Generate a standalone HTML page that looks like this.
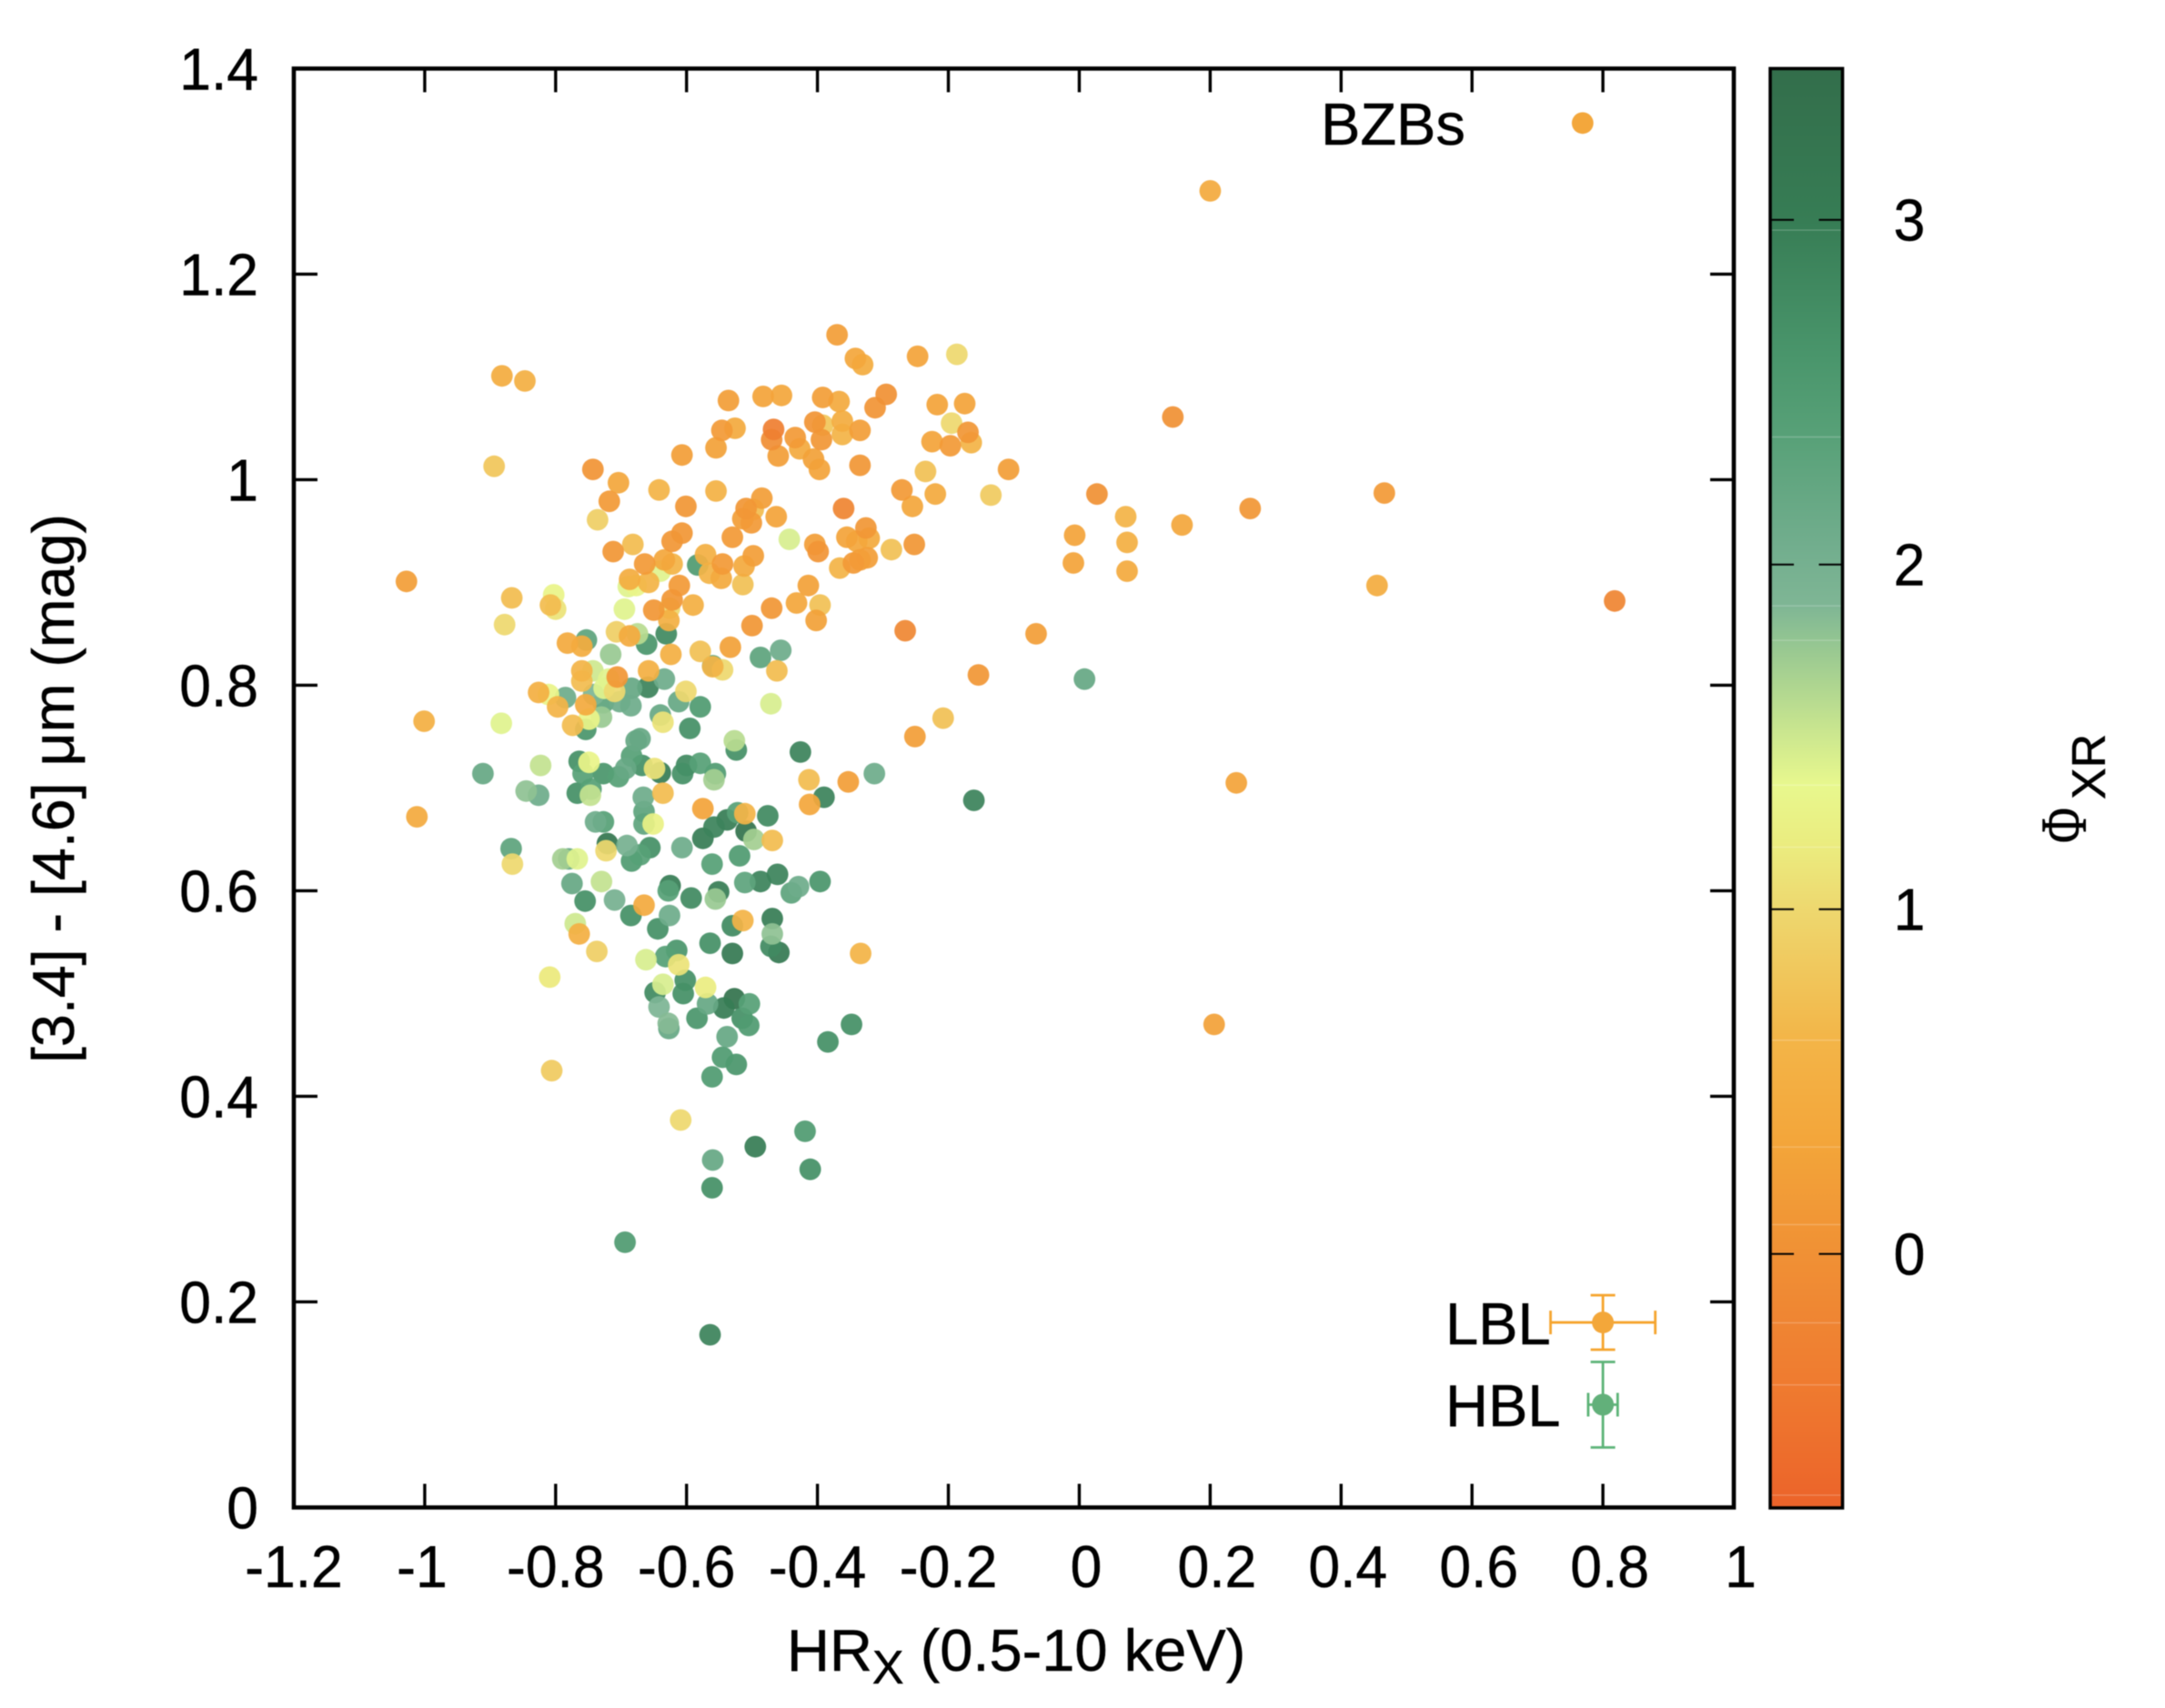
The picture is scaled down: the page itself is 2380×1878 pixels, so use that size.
<!DOCTYPE html>
<html lang="en">
<head>
<meta charset="utf-8">
<title>HRx versus WISE colour scatter plot</title>
<style>
  html, body { margin: 0; padding: 0; background: #fff; }
  svg { display: block; filter: blur(0.5px); }
  text { font-family: "Liberation Sans", sans-serif; fill: #000; stroke: #000; stroke-width: 0.5px; }
</style>
</head>
<body>
<svg id="chart" xmlns="http://www.w3.org/2000/svg" width="2380" height="1878" viewBox="0 0 2380 1878">
  <rect x="0" y="0" width="2380" height="1878" fill="#fff"/>
  <defs>
    <linearGradient id="cbGradient" x1="0" y1="0" x2="0" y2="1"></linearGradient>
  </defs>
  <g id="colorbar"></g>
  <g id="points"></g>
  <g id="legend"></g>
  <g id="axes"></g>

  <text x="865" y="1837" font-size="65">HR<tspan font-size="52" dy="14">X</tspan><tspan dy="-14"> (0.5-10 keV)</tspan></text>
  <text transform="translate(81,867) rotate(-90)" text-anchor="middle" font-size="65" textLength="604" lengthAdjust="spacingAndGlyphs">[3.4] - [4.6] μm (mag)</text>
  <text transform="translate(2293,927) rotate(-90)" font-size="72" textLength="39" lengthAdjust="spacingAndGlyphs" style="font-family:'Liberation Serif',serif">Φ</text>
  <text transform="translate(2314,879) rotate(-90)" font-size="52">XR</text>
  <text x="1452" y="159" font-size="65">BZBs</text>
  <text x="1589" y="1478" font-size="65">LBL</text>
  <text x="1589" y="1568" font-size="65">HBL</text>
</svg>

<script>
// ---- data ----
const hardness = [
  -0.370,-0.882,-0.847,-0.894,-0.743,-0.704,-0.718,-0.736,-0.642,-0.601,
  -0.555,-0.555,-0.607,-0.546,-0.526,-0.536,-0.483,-0.455,-0.392,-0.367,
  -0.342,-0.331,-0.247,-0.187,-0.295,-0.312,-0.217,-0.175,-0.195,-0.170,
  -0.165,-0.225,-0.197,-0.362,-0.362,-0.392,-0.404,-0.394,-0.335,-0.467,
  -0.470,-0.434,-0.427,-0.406,-0.460,-0.397,-0.335,-0.235,-0.271,-0.255,
  -0.220,-0.135,-0.360,-0.485,-0.509,-0.498,-0.514,-0.501,-0.463,-0.530,
  -0.607,-0.622,-0.443,-0.404,-0.399,-0.355,-0.340,-0.321,-0.326,-0.345,
  -0.324,-0.335,-0.366,-0.287,-0.252,-0.712,-0.682,-0.664,-0.634,-0.622,
  -0.583,-0.571,-0.545,-0.565,-0.547,-0.498,-0.512,-0.514,-0.687,-0.689,
  -0.677,-0.658,-0.611,-0.622,-0.590,-0.640,-0.867,-0.803,-0.800,-0.808,
  -0.878,-0.695,-0.650,-0.627,-0.626,-0.414,-0.432,-0.396,-0.402,-0.470,
  -0.500,-0.266,-1.028,-0.753,-0.782,-0.760,-0.707,-0.687,-0.675,-0.631,
  -0.661,-0.716,-0.624,-0.579,-0.533,-0.560,-0.545,-0.560,-0.487,-0.456,
  -0.462,-0.658,-0.634,-0.760,-0.743,-0.706,-0.154,0.143,0.027,-0.108,
  -0.007,-0.009,0.071,0.073,0.073,0.157,0.261,0.466,0.455,0.818,
  0.200,-0.066,0.008,0.240,0.206,-0.161,-0.760,-0.719,-0.659,-0.684,
  -0.726,-0.710,-0.601,-0.826,-0.811,-0.785,-0.797,-0.754,-0.727,-0.742,
  -0.702,-0.685,-0.612,-0.579,-0.640,-0.636,-0.730,-0.749,-0.774,-0.754,
  -0.595,-0.471,-0.883,-1.001,-0.208,-0.251,-0.671,-0.677,-0.527,-0.524,
  -0.426,-0.684,-0.764,-0.749,-0.668,-0.693,-0.649,-0.640,-0.704,-0.727,
  -0.758,-0.823,-0.911,-0.600,-0.606,-0.579,-0.556,-0.558,-0.413,-0.353,
  -0.313,-0.390,-0.412,-0.845,-0.826,-0.767,-0.747,-0.746,-0.666,-0.665,
  -0.636,-0.575,-0.522,-0.511,-0.476,-0.538,-0.558,-0.575,-0.509,-0.497,
  -0.469,-1.012,-0.739,-0.727,-0.651,-0.665,-0.868,-0.866,-0.789,-0.780,
  -0.767,-0.721,-0.723,-0.691,-0.656,-0.671,-0.684,-0.607,-0.561,-0.519,
  -0.775,-0.730,-0.755,-0.710,-0.665,-0.685,-0.626,-0.644,-0.628,-0.625,
  -0.593,-0.556,-0.551,-0.511,-0.487,-0.461,-0.440,-0.429,-0.396,-0.469,
  -0.514,-0.530,-0.469,-0.564,-0.471,-0.459,-0.530,-0.334,-0.770,-0.764,
  -0.737,-0.809,-0.662,-0.632,-0.615,-0.612,-0.602,-0.636,-0.648,-0.605,
  -0.571,-0.527,-0.543,-0.568,-0.504,-0.515,-0.505,-0.584,-0.642,-0.627,
  -0.628,-0.538,-0.545,-0.524,-0.561,-0.348,-0.384,-0.806,-0.609,-0.419,
  -0.495,-0.560,-0.411,-0.561,-0.694,-0.564
];
const wiseColour = [
  1.141,1.101,1.096,1.013,1.010,0.997,0.979,0.961,0.990,0.974,
  0.989,1.031,1.024,1.048,1.050,1.077,1.081,1.082,1.080,1.076,
  1.118,1.112,1.120,1.122,1.083,1.070,1.073,1.074,1.055,1.046,
  1.036,1.037,1.033,1.057,1.044,1.053,1.056,1.039,1.048,1.049,
  1.039,1.041,1.030,1.020,1.023,1.010,1.014,1.008,0.990,0.974,
  0.986,0.985,0.972,0.982,0.972,0.971,0.962,0.958,0.964,0.944,
  0.948,0.940,0.942,0.937,0.930,0.944,0.940,0.943,0.953,0.919,
  0.924,0.922,0.914,0.932,0.937,0.930,0.937,0.918,0.922,0.918,
  0.917,0.927,0.918,0.909,0.904,0.926,0.916,0.898,0.903,0.896,
  0.897,0.900,0.897,0.883,0.878,0.911,0.885,0.888,0.874,0.878,
  0.859,0.874,0.873,0.863,0.875,0.897,0.880,0.878,0.863,0.875,
  0.858,0.853,0.901,0.844,0.841,0.838,0.852,0.848,0.850,0.850,
  0.840,0.830,0.830,0.833,0.837,0.819,0.815,0.818,0.827,0.834,
  0.814,0.814,0.806,0.814,0.814,0.808,0.810,1.061,0.986,1.010,
  0.946,0.919,0.964,0.939,0.911,0.956,0.972,0.987,0.897,0.882,
  1.281,0.850,0.806,0.705,0.470,0.688,0.804,0.806,0.798,0.797,
  0.797,0.794,0.794,0.793,0.791,0.788,0.779,0.781,0.783,0.791,
  0.784,0.780,0.784,0.779,0.771,0.764,0.769,0.767,0.761,0.757,
  0.758,0.782,0.763,0.765,0.768,0.750,0.748,0.746,0.746,0.737,
  0.735,0.731,0.726,0.725,0.722,0.719,0.719,0.715,0.711,0.714,
  0.714,0.722,0.714,0.722,0.714,0.724,0.714,0.708,0.708,0.706,
  0.714,0.691,0.684,0.697,0.693,0.695,0.693,0.699,0.691,0.677,
  0.695,0.680,0.676,0.675,0.673,0.669,0.662,0.651,0.658,0.650,
  0.649,0.672,0.667,0.667,0.665,0.665,0.641,0.626,0.631,0.631,
  0.631,0.646,0.639,0.644,0.642,0.635,0.629,0.642,0.626,0.634,
  0.607,0.609,0.590,0.591,0.586,0.576,0.576,0.563,0.600,0.605,
  0.593,0.592,0.599,0.608,0.609,0.616,0.598,0.604,0.609,0.573,
  0.571,0.566,0.558,0.549,0.546,0.540,0.539,0.539,0.568,0.558,
  0.541,0.516,0.533,0.536,0.542,0.528,0.513,0.509,0.501,0.500,
  0.506,0.495,0.486,0.490,0.490,0.476,0.469,0.476,0.487,0.466,
  0.471,0.458,0.438,0.431,0.419,0.470,0.453,0.425,0.377,0.366,
  0.351,0.338,0.329,0.311,0.258,0.168
];
const phiXR = [
  0.2,0.45,0.5,0.8,0.05,0.35,0.15,0.9,0.6,0.1,
  0.55,0.25,0.2,0.15,0.4,0.2,0.3,0.35,0.2,0.4,
  0.35,0.45,0.3,1.0,0,0.05,0.3,0.3,1.0,0.1,
  0.6,0.3,0.15,0.45,0.6,0.8,0.05,0.1,0.2,-0.3,
  -0.05,0.15,0.4,0.25,0.2,0.3,0.1,0.75,0.15,0.35,
  0.4,0.85,-0.2,0.2,0.1,0.7,0.2,0.15,0.3,0.15,
  0.1,0.1,1.45,0.2,0.05,0.3,0.35,0.4,0.1,0.15,
  0.2,0.2,0.6,0.75,0.1,0.1,0.7,0.15,0.35,0.6,
  2.5,0.5,0.15,0.6,0.4,0.2,0.4,0.75,0.45,1.4,
  1.3,0.6,0.15,0.1,0.5,1.4,0.7,1.3,1.1,0.7,
  1.0,1.4,0.1,0.5,1.0,0.25,0.35,0.75,0.25,0.1,
  0.1,-0.15,0.2,2.3,0.4,0.45,0.9,0.4,1.6,2.8,
  2.6,1.75,0.5,0.75,0.25,2.3,1.0,0.6,2.3,2.1,
  0.7,0.5,2.1,0.6,1.5,0.1,0.1,0,0,0.2,
  0.3,0.3,0.6,0.5,0.4,0.35,0.1,0.15,0.45,-0.2,
  0.4,0.2,2.2,0.3,0.25,2.9,0.7,1.4,2.9,2.2,
  1.4,1.0,1.0,0.5,1.3,2.1,0.6,0.4,2.3,1.9,
  2.1,2.1,2.2,2.5,2.2,1.1,1.75,1.3,0.7,2.6,
  2.7,1.45,1.4,0.5,0.75,0.2,2.2,2.2,1.6,2.7,
  2.9,2.4,2.7,1.3,2.7,2.2,1.1,3.0,2.4,2.6,
  2.4,1.55,2.2,2.8,2.7,2.4,2.5,1.7,0.7,0.2,
  2.1,2.9,0.35,1.8,2.1,2.7,1.55,2.4,2.1,2.3,
  0.7,0.3,2.4,0.6,2.8,3.0,2.9,3.0,3.3,1.7,
  0.7,0.4,2.1,2.4,1.25,2.3,2.3,1.0,1.7,2.2,
  1.4,3.2,1.0,2.0,2.7,2.4,2.5,2.1,2.4,2.5,
  2.2,1.55,2.7,2.0,0.4,2.7,2.1,2.7,2.4,3.0,
  2.8,1.75,3.0,2.3,2.9,2.9,2.3,2.1,2.6,3.0,
  0.6,2.8,1.8,2.7,2.8,3.1,3.1,0.6,1.5,0.5,
  0.9,1.15,1.45,2.4,2.6,1.1,2.7,1.45,2.8,2.7,
  1.2,3.3,3.0,2.2,2.4,2.7,2.5,2.6,1.9,2.2,
  1.85,2.2,2.5,2.6,2.5,2.7,2.7,0.85,1.0,2.5,
  3.0,2.2,2.7,2.7,2.5,2.9
];

const xTicks = [-1.2,-1,-0.8,-0.6,-0.4,-0.2,0,0.2,0.4,0.6,0.8,1];
const xTickLabels = ['-1.2','-1','-0.8','-0.6','-0.4','-0.2','0','0.2','0.4','0.6','0.8','1'];
const yTicks = [0,0.2,0.4,0.6,0.8,1,1.2,1.4];
const yTickLabels = ['0','0.2','0.4','0.6','0.8','1','1.2','1.4'];
const cbTicks = [0,1,2,3];
const cbTickLabels = ['0','1','2','3'];

const paletteValues = [-0.74,-0.38,-0.2,0.085,0.31,0.62,1.0,1.18,1.36,1.5,1.78,1.88,2.05,2.37,2.6,3.0,3.44];
const paletteColours = ['#ec632a','#ef7b30','#ef8533','#f19636','#f3a53a','#f3b548','#eed86f','#ebec7f','#e8f88e','#cde88f','#93c592','#7fb695','#72ae8e','#58a178','#4a966c','#377d55','#336e4b'];
const paletteSeams = [-0.7,-0.38,-0.2,0.085,0.31,0.62,1.18,1.36,1.78,1.88,2.37,2.97];

const refNames = ['LBL','HBL'];
const refX = [0.8,0.8];
const refY = [0.18,0.1];
const refXErr = [0.08,0.0225];
const refYErr = [0.0265,0.0416];
const refLine = ['#f5a42e','#5cb377'];
const refDot = ['#f3a73a','#62b07a'];
const bzbsKeyX = 0.769;
const bzbsKeyY = 1.347;
const bzbsKeyPhi = 0.35;

// ---- axis functions ----
const PLOT = { left: 323, right: 1906, top: 75.4, bottom: 1657.5 };
const CB = { left: 1946, right: 2025.5, top: 75.4, bottom: 1658 };
const sx = v => PLOT.left + (v + 1.2) / 2.2 * (PLOT.right - PLOT.left);
const sy = v => PLOT.bottom - v / 1.4 * (PLOT.bottom - PLOT.top);
const sc = v => 1378.7 - v * 379;
const CB_MAX = 3.44;
const CB_MIN = -0.74;
const TICK_TEXT_SCALE = 'scale(0.96,1)';

const NS = 'http://www.w3.org/2000/svg';
function make(parent, tag, attrs, text) {
  const el = document.createElementNS(NS, tag);
  for (const k in attrs) el.setAttribute(k, attrs[k]);
  if (text !== undefined) el.textContent = text;
  parent.appendChild(el);
  return el;
}
function hexToRgb(h) {
  return [parseInt(h.slice(1,3),16), parseInt(h.slice(3,5),16), parseInt(h.slice(5,7),16)];
}
function colourOf(v) {
  if (v <= paletteValues[0]) return paletteColours[0];
  for (let i = 1; i < paletteValues.length; i++) {
    if (v <= paletteValues[i]) {
      const t = (v - paletteValues[i-1]) / (paletteValues[i] - paletteValues[i-1]);
      const a = hexToRgb(paletteColours[i-1]);
      const b = hexToRgb(paletteColours[i]);
      return 'rgb(' + [0,1,2].map(c => Math.round(a[c] + (b[c]-a[c]) * t)).join(',') + ')';
    }
  }
  return paletteColours[paletteColours.length - 1];
}

// ---- colour bar ----
const grad = document.getElementById('cbGradient');
for (let i = paletteValues.length - 1; i >= 0; i--) {
  const off = (CB_MAX - paletteValues[i]) / (CB_MAX - CB_MIN);
  make(grad, 'stop', { offset: off.toFixed(4), 'stop-color': paletteColours[i] });
}
const cbGroup = document.getElementById('colorbar');
const cbRect = make(cbGroup, 'rect', { x: CB.left, y: CB.top, width: CB.right - CB.left, height: CB.bottom - CB.top, fill: 'url(#cbGradient)' });


paletteSeams.forEach(v => {
  const seam = make(cbGroup, 'line', { x1: CB.left + 2, x2: CB.right - 2, y1: sc(v), y2: sc(v), stroke: '#fff', 'stroke-opacity': 0.25, 'stroke-width': 1.2 });
  
  
});
const cbFrame = make(cbGroup, 'rect', { x: CB.left, y: CB.top, width: CB.right - CB.left, height: CB.bottom - CB.top, fill: 'none', stroke: '#000', 'stroke-width': 3.6 });


cbTicks.forEach((v, i) => {
  const y = sc(v);
  const t1 = make(cbGroup, 'line', { x1: CB.left, x2: CB.left + 26, y1: y, y2: y, stroke: '#000', 'stroke-width': 2 });
  
  
  const t2 = make(cbGroup, 'line', { x1: CB.right - 26, x2: CB.right, y1: y, y2: y, stroke: '#000', 'stroke-width': 2 });
  
  
  const lab = make(cbGroup, 'text', { transform: 'translate(2099,' + (y + 23) + ') ' + TICK_TEXT_SCALE, 'text-anchor': 'middle', 'font-size': 65 }, cbTickLabels[i]);
  
  
});

// ---- data points (green first so orange sits above, as in the figure) ----
const pointGroup = document.getElementById('points');
const order = hardness.map((_, i) => i).sort((a, b) => phiXR[b] - phiXR[a]);
order.forEach(i => {
  const dot = make(pointGroup, 'circle', { cx: sx(hardness[i]).toFixed(1), cy: sy(wiseColour[i]).toFixed(1), r: 11.9, fill: colourOf(phiXR[i]), 'fill-opacity': 0.93 });
  
  
});

// ---- legend ----
const legendGroup = document.getElementById('legend');
const bzbsKey = make(legendGroup, 'circle', { cx: sx(bzbsKeyX), cy: sy(bzbsKeyY), r: 11.9, fill: colourOf(bzbsKeyPhi) });


refNames.forEach((name, i) => {
  const g = make(legendGroup, 'g', { stroke: refLine[i], 'stroke-width': 2.8, fill: 'none' });
  
  
  const cx = sx(refX[i]);
  const cy = sy(refY[i]);
  const x0 = sx(refX[i] - refXErr[i]);
  const x1 = sx(refX[i] + refXErr[i]);
  const y0 = sy(refY[i] - refYErr[i]);
  const y1 = sy(refY[i] + refYErr[i]);
  make(g, 'line', { x1: x0, x2: x1, y1: cy, y2: cy });
  make(g, 'line', { x1: cx, x2: cx, y1: y0, y2: y1 });
  make(g, 'line', { x1: x0, x2: x0, y1: cy - 13, y2: cy + 13 });
  make(g, 'line', { x1: x1, x2: x1, y1: cy - 13, y2: cy + 13 });
  make(g, 'line', { x1: cx - 13.5, x2: cx + 13.5, y1: y0, y2: y0 });
  make(g, 'line', { x1: cx - 13.5, x2: cx + 13.5, y1: y1, y2: y1 });
  const dot = make(legendGroup, 'circle', { cx: cx, cy: cy, r: 12, fill: refDot[i] });
  
  
});

// ---- axes ----
const axisGroup = document.getElementById('axes');
xTicks.forEach((v, i) => {
  const x = sx(v);
  const b = make(axisGroup, 'line', { x1: x, x2: x, y1: PLOT.bottom, y2: PLOT.bottom - 26, stroke: '#000', 'stroke-width': 3.4 });
  
  
  const t = make(axisGroup, 'line', { x1: x, x2: x, y1: PLOT.top, y2: PLOT.top + 26, stroke: '#000', 'stroke-width': 3.4 });
  
  
  // the source figure centres non-negative labels slightly to the right of their ticks
  const labelX = x + (v >= 0 ? 7.5 : (xTickLabels[i] === '-1' ? -3 : 0));
  const lab = make(axisGroup, 'text', { transform: 'translate(' + labelX + ',1745) ' + TICK_TEXT_SCALE, 'text-anchor': 'middle', 'font-size': 65 }, xTickLabels[i]);
  
  
});
yTicks.forEach((v, i) => {
  const y = sy(v);
  const l = make(axisGroup, 'line', { x1: PLOT.left, x2: PLOT.left + 26, y1: y, y2: y, stroke: '#000', 'stroke-width': 3.4 });
  
  
  const r = make(axisGroup, 'line', { x1: PLOT.right, x2: PLOT.right - 26, y1: y, y2: y, stroke: '#000', 'stroke-width': 3.4 });
  
  
  const lab = make(axisGroup, 'text', { transform: 'translate(284,' + (y + 23) + ') ' + TICK_TEXT_SCALE, 'text-anchor': 'end', 'font-size': 65 }, yTickLabels[i]);
  
  
});
const frame = make(axisGroup, 'rect', { x: PLOT.left, y: PLOT.top, width: PLOT.right - PLOT.left, height: PLOT.bottom - PLOT.top, fill: 'none', stroke: '#000', 'stroke-width': 4.6 });


</script>
</body>
</html>
